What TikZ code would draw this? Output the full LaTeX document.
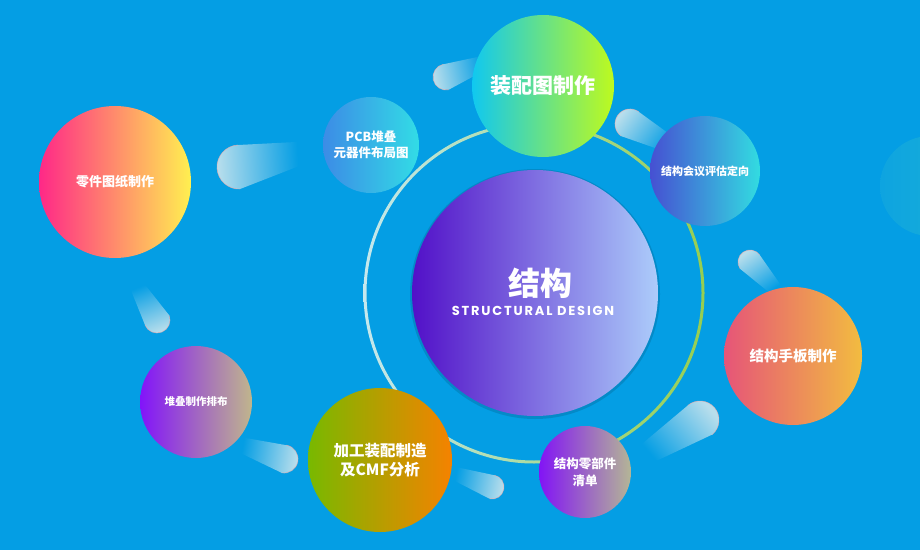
\documentclass[tikz,border=0pt]{standalone}
\usepackage{fontspec}
\newfontfamily\cjk{Noto Sans CJK SC}
\newfontfamily\techfont[LetterSpace=14]{Poppins}
\usetikzlibrary{positioning}

\definecolor{bgblue}{RGB}{4,158,228}
\definecolor{cometc}{RGB}{184,222,236}
\definecolor{cometm}{RGB}{96,186,222}
\definecolor{cometrim}{RGB}{240,172,172}
\definecolor{ringL}{RGB}{196,232,238}
\definecolor{ringR}{RGB}{150,206,80}

\newcommand{\cn}[2]{\cjk\bfseries\fontsize{#1}{#2}\selectfont}

% comet: [extra], head x, head y, radius, tail angle, tail length
\newcommand{\comet}[6][]{%
  \pgfmathsetmacro\cometang{#5+90}
  \begin{scope}[shift={(#2,#3)}, rotate=#5, #1]
    \path[top color=cometc, middle color=cometm, bottom color=bgblue, shading angle=\cometang]
      (0,#4) -- (#6,#4) -- (#6,-0.1*#4) -- (0,-#4)
      arc[start angle=270, end angle=90, radius=#4] -- cycle;
    \draw[cometrim, line width=0.6pt, opacity=0.7] (0,-#4) arc[start angle=270, end angle=90, radius=#4];
  \end{scope}}

\begin{document}
\begin{tikzpicture}[
    x=1pt, y=1pt,
    bubble/.style={circle, inner sep=0pt, text=white, align=center},
    ]

  \useasboundingbox (0,0) rectangle (920,550);
  \fill[bgblue] (0,0) rectangle (920,550);

  % faint circle at the right border
  \node[circle, minimum size=100, left color={rgb,255:red,14;green,164;blue,224},
        right color={rgb,255:red,26;green,176;blue,214}] (ghost) at (930,364) {};

  % ring round the core
  \path[left color=ringL, right color=ringR, even odd rule]
    (534,257) circle (170.5) (534,257) circle (167.5);

  % comets
  \comet{239}{383}{22}{3}{60}
  \comet{446}{473}{13}{12}{40}
  \comet{630}{426}{15}{-36}{45}
  \comet{750}{288}{12}{-55}{38}
  \comet[yscale=-1]{700}{130}{19}{220}{65}
  \comet[yscale=-1]{492}{63}{12}{168}{40}
  \comet[yscale=-1]{284}{91}{14}{170}{45}
  \comet{157}{230}{13}{112}{40}

  % core
  \fill[black, opacity=0.12] (535,256) circle (125);
  \node[bubble, minimum size=246, left color={rgb,255:red,82;green,16;blue,200},
        right color={rgb,255:red,172;green,204;blue,250}] (core) at (535,257) {};
  \node[text=white, font=\cn{32}{36}] (ttl) at (540,267) {结构};
  \node[text=white, font=\techfont\bfseries\fontsize{13}{15}\selectfont] (sub) at (533,239) {STRUCTURAL DESIGN};

  % satellites
  \node[bubble, minimum size=142, font=\cn{21}{25},
        left color={rgb,255:red,16;green,200;blue,240},
        right color={rgb,255:red,190;green,250;blue,30}] (asm) at (543,464) {装配图制作};
  \node[bubble, minimum size=110, font=\cn{11}{14},
        left color={rgb,255:red,70;green,80;blue,210},
        right color={rgb,255:red,50;green,220;blue,225}] (mtg) at (705,379) {结构会议评估定向};
  \node[bubble, minimum size=138, font=\cn{14.5}{18},
        left color={rgb,255:red,230;green,85;blue,120},
        right color={rgb,255:red,242;green,188;blue,64}] (proto) at (793,194) {结构手板制作};
  \node[bubble, minimum size=92, font=\cn{12.5}{17},
        left color={rgb,255:red,130;green,20;blue,245},
        right color={rgb,255:red,180;green,182;blue,150}] (bom) at (585,78) {结构零部件\\清单};
  \node[bubble, minimum size=144, font=\cn{15.5}{19},
        left color={rgb,255:red,120;green,185;blue,0},
        right color={rgb,255:red,245;green,130;blue,0}] (cmf) at (380,90) {加工装配制造\\及CMF分析};
  \node[bubble, minimum size=112, font=\cn{10.5}{13},
        left color={rgb,255:red,130;green,20;blue,250},
        right color={rgb,255:red,192;green,182;blue,140}] (stack) at (196,148) {堆叠制作排布};
  \node[bubble, minimum size=152, font=\cn{13}{16},
        left color={rgb,255:red,255;green,40;blue,135},
        right color={rgb,255:red,255;green,240;blue,80}] (part) at (115,368) {零件图纸制作};
  \node[bubble, minimum size=96, font=\cn{12.5}{16},
        left color={rgb,255:red,60;green,140;blue,230},
        right color={rgb,255:red,50;green,220;blue,230}] (pcb) at (371,405) {PCB堆叠\\元器件布局图};

\end{tikzpicture}
\end{document}
